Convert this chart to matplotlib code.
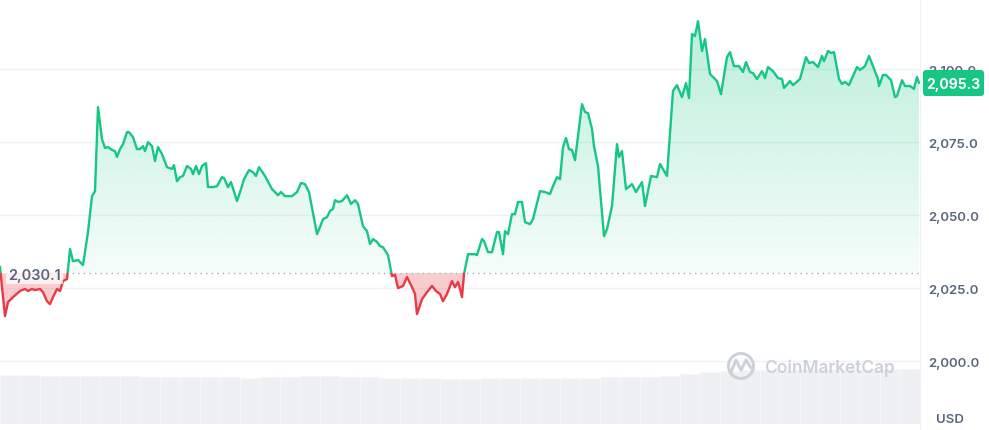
import matplotlib.pyplot as plt
import numpy as np
from matplotlib.patches import Rectangle, PathPatch, Circle, FancyBboxPatch
from matplotlib.path import Path

# time position (px of the 24h window) and price in USD
t = [0, 5, 8, 13, 20, 25, 28, 32, 35, 40, 43, 47, 50, 53, 57, 60, 63, 67, 70, 73,
     78, 83, 88, 92, 95, 98, 102, 105, 108, 112, 115, 117, 120, 123, 127, 129, 133, 137, 140, 143,
     145, 148, 152, 155, 158, 162, 167, 172, 174, 177, 180, 183, 187, 191, 193, 196, 199, 202, 206, 208,
     213, 217, 222, 224, 228, 231, 237, 241, 244, 249, 253, 256, 259, 265, 272, 278, 281, 285, 292, 297,
     301, 305, 309, 317, 320, 323, 327, 330, 333, 335, 338, 342, 347, 351, 355, 358, 363, 367, 370, 373,
     377, 380, 383, 388, 392, 395, 398, 403, 407, 412, 415, 417, 422, 427, 432, 436, 440, 443, 447, 452,
     455, 458, 460, 462, 464, 468, 475, 477, 482, 484, 488, 492, 497, 499, 503, 505, 508, 512, 515, 518,
     522, 525, 530, 533, 540, 545, 550, 553, 557, 560, 563, 566, 569, 572, 575, 582, 585, 588, 592, 594,
     598, 604, 607, 612, 617, 619, 622, 626, 632, 636, 642, 645, 651, 657, 660, 667, 673, 677, 682, 686,
     689, 692, 695, 698, 702, 705, 710, 713, 717, 721, 727, 730, 734, 739, 743, 746, 750, 753, 757, 762,
     765, 768, 773, 778, 782, 784, 790, 793, 800, 806, 809, 813, 818, 822, 824, 828, 831, 834, 839, 842,
     845, 849, 857, 860, 865, 869, 873, 878, 879, 883, 886, 891, 895, 897, 902, 905, 910, 914, 917, 919]
price = [2032.2, 2015.4, 2020.2, 2021.9, 2024.0, 2024.7, 2024.0, 2024.7, 2024.3, 2024.7,
         2023.6, 2020.5, 2019.5, 2021.9, 2024.7, 2024.0, 2027.4, 2028.1, 2038.4, 2034.2,
         2034.6, 2032.9, 2044.2, 2056.5, 2058.2, 2087.0, 2076.0, 2073.0, 2073.3, 2072.3,
         2071.9, 2069.9, 2072.6, 2074.3, 2078.4, 2078.4, 2076.7, 2072.6, 2072.6, 2073.6,
         2071.9, 2075.0, 2073.6, 2068.5, 2073.3, 2070.9, 2066.4, 2065.8, 2067.1, 2061.6,
         2063.0, 2063.4, 2066.8, 2065.8, 2064.0, 2066.8, 2064.0, 2066.8, 2067.8, 2059.6,
         2059.6, 2059.9, 2063.0, 2062.7, 2059.6, 2061.3, 2054.8, 2058.9, 2062.3, 2065.4,
         2064.7, 2063.4, 2066.4, 2063.4, 2058.9, 2056.8, 2057.9, 2056.5, 2056.5, 2057.9,
         2061.0, 2060.6, 2057.9, 2043.5, 2045.9, 2048.6, 2049.3, 2051.4, 2052.1, 2055.1,
         2054.5, 2054.8, 2056.8, 2053.8, 2055.1, 2053.8, 2046.2, 2044.5, 2040.1, 2041.8,
         2040.8, 2039.4, 2039.0, 2036.3, 2029.1, 2029.5, 2025.0, 2025.7, 2028.8, 2025.3,
         2023.0, 2016.1, 2021.2, 2023.6, 2025.7, 2024.0, 2023.0, 2020.5, 2023.0, 2027.4,
         2025.3, 2027.1, 2024.7, 2021.9, 2029.8, 2036.6, 2036.6, 2036.3, 2041.8, 2041.1,
         2037.3, 2037.3, 2044.2, 2044.2, 2036.6, 2044.5, 2043.5, 2050.3, 2050.3, 2054.5,
         2054.5, 2047.6, 2046.9, 2048.6, 2058.2, 2057.9, 2057.2, 2059.9, 2063.0, 2062.3,
         2073.3, 2076.4, 2072.6, 2072.3, 2068.8, 2088.0, 2085.3, 2084.9, 2079.5, 2073.6,
         2066.8, 2042.8, 2045.2, 2053.1, 2074.3, 2069.9, 2071.9, 2058.9, 2060.6, 2057.9,
         2061.3, 2053.1, 2063.4, 2063.0, 2067.5, 2063.4, 2092.5, 2094.5, 2090.4, 2095.2,
         2090.1, 2112.0, 2111.3, 2116.4, 2106.2, 2110.3, 2098.3, 2097.3, 2095.9, 2091.4,
         2104.1, 2105.8, 2101.0, 2101.0, 2099.0, 2102.4, 2099.0, 2098.6, 2096.6, 2099.3,
         2096.9, 2100.7, 2099.3, 2096.9, 2096.6, 2093.5, 2095.9, 2094.5, 2096.6, 2104.1,
         2102.1, 2102.4, 2100.7, 2104.5, 2102.7, 2106.2, 2105.5, 2105.8, 2096.6, 2094.9,
         2095.6, 2094.5, 2100.7, 2099.7, 2101.0, 2104.5, 2101.0, 2096.6, 2094.2, 2098.0,
         2098.0, 2096.2, 2090.4, 2090.8, 2096.2, 2094.2, 2094.2, 2093.2, 2097.3, 2095.3]

open_price = 2030.1
last_price = 2095.3
yticks = [2000, 2025, 2050, 2075, 2100]

# volume bars, one per 20 px slot
vol_t = list(range(10, 920, 20))
volume = [490, 490, 485, 480, 480, 485, 480, 475, 470, 470, 470, 470, 465, 470, 475, 480,
          480, 475, 470, 465, 460, 460, 455, 455, 460, 460, 460, 460, 465, 465, 470, 470,
          475, 480, 500, 520, 535, 540, 545, 545, 550, 550, 550, 550, 550, 550]

GREEN = '#16c784'
RED = '#ea3943'
GREY = '#58667e'

W, H = 989, 431
fig = plt.figure(figsize=(W / 100, H / 100), dpi=100)

# volume underlay
vax = fig.add_axes([0, 6 / H, 920 / W, 85 / H])
vax.bar(vol_t, volume, width=20, color='#eef0f4', edgecolor='#f7f8fa', linewidth=0.5)
vax.set_xlim(0, 920)
vax.set_ylim(0, 850)
vax.axis('off')

ax = fig.add_axes([0, 0, 920 / W, 1])
ax.patch.set_alpha(0)
ax.set_xlim(0, 920)
ax.set_ylim(1976.4, 2124.0)

for y in yticks:
    ax.axhline(y, color='#eff2f5', lw=1, zorder=0)

t_arr = np.array(t, dtype=float)
p_arr = np.array(price)

# green gradient fill above the open price
poly = ax.fill_between(t_arr, p_arr, open_price, where=p_arr >= open_price,
                       interpolate=True, color='none', lw=0)
clip = PathPatch(Path.make_compound_path(*poly.get_paths()), transform=ax.transData,
                 facecolor='none', edgecolor='none')
ax.add_patch(clip)
grad = np.zeros((256, 2, 4))
grad[:, :, :3] = np.array([22, 199, 132]) / 255
grad[:, :, 3] = np.linspace(0.30, 0.04, 256)[:, None]
im = ax.imshow(grad, extent=[0, 920, open_price, 2118], aspect='auto',
               origin='upper', zorder=1, interpolation='bilinear')
im.set_clip_path(clip)

# red fill below the open price
ax.fill_between(t_arr, p_arr, open_price, where=p_arr <= open_price,
                interpolate=True, color=RED, alpha=0.25, lw=0, zorder=1)

# dotted open line
ax.axhline(open_price, color='#a6b0c3', lw=1, ls=(0, (1, 3)), zorder=2)

# line, green above and red below the open price
up, = ax.plot(t_arr, p_arr, color=GREEN, lw=1.7, zorder=3, solid_joinstyle='round')
dn, = ax.plot(t_arr, p_arr, color=RED, lw=1.7, zorder=3, solid_joinstyle='round')
up.set_clip_path(Rectangle((0, open_price), 920, 200, transform=ax.transData))
dn.set_clip_path(Rectangle((0, open_price - 200), 920, 200, transform=ax.transData))

ax.yaxis.tick_right()
ax.set_yticks(yticks)
ax.set_yticklabels([f'{v:,.1f}' for v in yticks])
ax.tick_params(axis='y', length=0, pad=6, labelsize=9.5, labelcolor=GREY)
for lab in ax.get_yticklabels():
    lab.set_fontfamily(['Inter', 'DejaVu Sans'])
    lab.set_fontweight('semibold')
ax.set_xticks([])
for side in ['top', 'left', 'bottom']:
    ax.spines[side].set_visible(False)
ax.spines['right'].set_color('#eff2f5')

# overlay in pixel coordinates for labels
ov = fig.add_axes([0, 0, 1, 1])
ov.set_xlim(0, W)
ov.set_ylim(H, 0)
ov.axis('off')

ov.text(8, 276, f'{open_price:,.1f}', ha='left', va='center', fontsize=10.5,
        fontweight='semibold', color=GREY, family=['Inter', 'DejaVu Sans'],
        bbox=dict(boxstyle='square,pad=0.15', fc='white', ec='none', alpha=0.7), zorder=5)

tag = FancyBboxPatch((923, 71), 61, 26, boxstyle='round,pad=0,rounding_size=3',
                     fc=GREEN, ec='none', zorder=5)
ov.add_patch(tag)
ov.text(953.5, 84.5, f'{last_price:,.1f}', ha='center', va='center', fontsize=10,
        fontweight='bold', color='white', family=['Inter', 'DejaVu Sans'], zorder=6)

ov.text(936, 420, 'USD', ha='left', va='center', fontsize=9.5, fontweight='semibold',
        color=GREY, family=['Inter', 'DejaVu Sans'])

# watermark
wm = '#cdd1d8'
ov.add_patch(Circle((741, 367), 12.5, fill=False, ec=wm, lw=2.2))
ov.plot([731, 736, 741, 746, 751], [373, 361, 371, 361, 369], color=wm, lw=2.2,
        solid_joinstyle='round', solid_capstyle='round')
ov.text(764, 368, 'CoinMarketCap', ha='left', va='center', fontsize=12.5,
        fontweight='semibold', color=wm, family=['Inter', 'DejaVu Sans'])

fig.savefig('out.png', dpi=100)
